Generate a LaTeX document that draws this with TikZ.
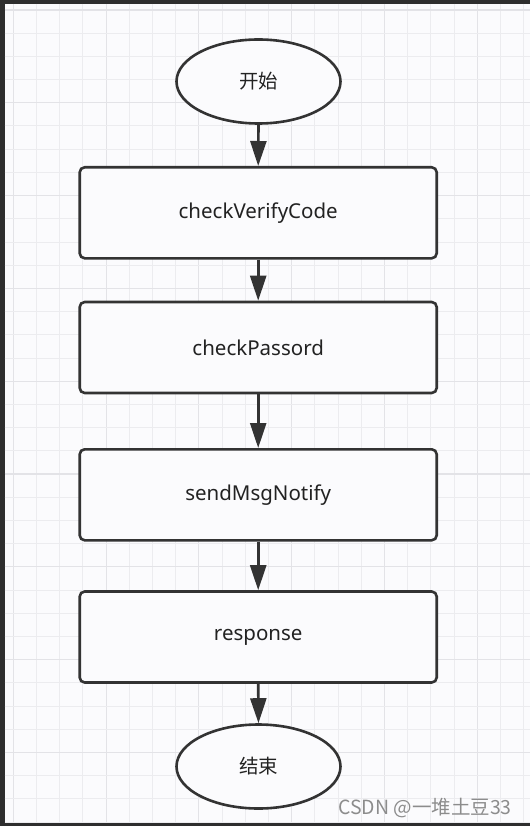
\documentclass[tikz,border=0pt]{standalone}
\usepackage{fontspec}
\setmainfont{Noto Sans}
\newfontfamily\cjk{Noto Sans CJK SC}
\usetikzlibrary{shapes.geometric,arrows.meta}
\definecolor{frame}{HTML}{2E2E2E}
\definecolor{paper}{HTML}{FBFBFD}
\definecolor{gridminor}{HTML}{ECECEF}
\definecolor{gridmajor}{HTML}{E3E3E7}
\definecolor{ink}{HTML}{333333}
\definecolor{txt}{HTML}{222222}
\definecolor{wm}{HTML}{8C8C8C}
\tikzset{
  stepbox/.style={draw=ink, line width=2.6pt, rounded corners=5pt, fill=paper,
    minimum width=357pt, minimum height=91pt, inner sep=0pt,
    font=\fontsize{20.5}{24}\selectfont, text=txt},
  terminal/.style={ellipse, draw=ink, line width=2.6pt, fill=paper,
    minimum width=164pt, minimum height=84pt, inner sep=0pt,
    font=\cjk\fontsize{19.5}{22}\selectfont, text=txt},
  flow/.style={draw=ink, line width=2.6pt, -{Triangle[length=25pt,width=16pt]}}
}
\begin{document}
\begin{tikzpicture}[x=1pt,y=-1pt]
\fill[frame] (0,0) rectangle (530,826);
\fill[paper] (4.7,4) rectangle (530,823);
\begin{scope}
\clip (4.7,4) rectangle (530,823);
\foreach \k in {0,...,22}{
  \pgfmathtruncatemacro{\m}{mod(\k,4)}
  \ifnum\m=0
    \draw[gridmajor, line width=1.1pt] ({13.3+23.2*\k},4) -- ({13.3+23.2*\k},823);
  \else
    \draw[gridminor, line width=1pt] ({13.3+23.2*\k},4) -- ({13.3+23.2*\k},823);
  \fi
}
\foreach \k in {0,...,35}{
  \pgfmathtruncatemacro{\m}{mod(\k,4)}
  \ifnum\m=0
    \draw[gridmajor, line width=1.1pt] (4.7,{10+23.2*\k}) -- (530,{10+23.2*\k});
  \else
    \draw[gridminor, line width=1pt] (4.7,{10+23.2*\k}) -- (530,{10+23.2*\k});
  \fi
}
\end{scope}

\node[terminal] (start) at (258.5,81.5) {开始};
\node[stepbox] (b1) at (258.2,212.8) {checkVerifyCode};
\node[stepbox] (b2) at (258.2,347.5) {checkPassord};
\node[stepbox] (b3) at (258.2,494.8) {sendMsgNotify};
\node[stepbox] (b4) at (258.2,637) {response};
\node[terminal] (end) at (258.5,766.5) {结束};

\draw[flow] (start.south) -- (b1.north);
\draw[flow] (b1.south) -- (b2.north);
\draw[flow] (b2.south) -- (b3.north);
\draw[flow] (b3.south) -- (b4.north);
\draw[flow] (b4.south) -- (end.north);

\node[anchor=base west, inner sep=0pt, text=wm, font=\cjk\fontsize{19.5}{22}\selectfont] (wmk) at (338,814) {CSDN @一堆土豆33};
\end{tikzpicture}
\end{document}
